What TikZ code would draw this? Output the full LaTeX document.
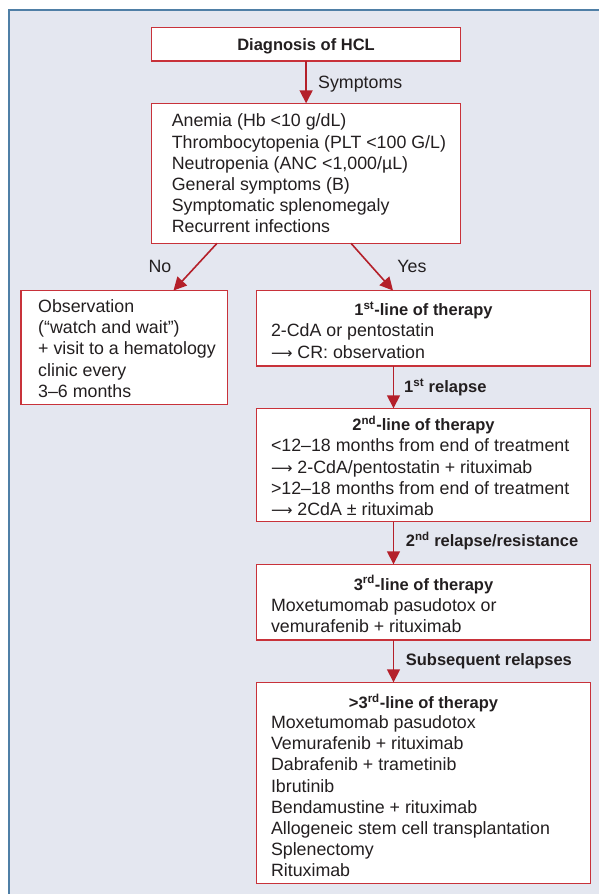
\documentclass[tikz,border=0pt]{standalone}
\usepackage{fontspec}
\setmainfont{Liberation Sans}
\newfontfamily\arrfont{DejaVu Sans}
\usetikzlibrary{arrows.meta}
\definecolor{bgcol}{HTML}{E4E7F0}
\definecolor{framecol}{HTML}{4F7FA6}
\definecolor{boxred}{HTML}{C8323A}
\definecolor{arrred}{HTML}{B4202A}
\definecolor{ink}{HTML}{231F20}
\newcommand{\bodyfnt}{\fontsize{17.8}{21.2}\selectfont}
\newcommand{\boldfnt}{\fontsize{16.5}{21.2}\selectfont\bfseries}
\newcommand{\fs}{\rule{0pt}{16pt}}
\newcommand{\lar}{{\arrfont\fontsize{15}{21.2}\selectfont ⟶}}
\begin{document}
\begin{tikzpicture}[x=1pt,y=-1pt,
  box/.style={draw=boxred, line width=1.4pt, fill=white, inner sep=0, outer sep=0, anchor=north west},
  txt/.style={anchor=north west, inner sep=0, align=left, font=\bodyfnt, text=ink},
  lbl/.style={anchor=base west, inner sep=0, font=\bodyfnt, text=ink},
  blbl/.style={anchor=base west, inner sep=0, font=\boldfnt, text=ink},
  ttl/.style={anchor=base, inner sep=0, font=\boldfnt, text=ink},
  arr/.style={draw=arrred, line width=1.6pt, -{Triangle[width=13pt,length=13pt]}, arrred}]
\useasboundingbox (0,0) rectangle (598,894);
% background frame
\fill[bgcol] (8,9) rectangle (600,896);
\draw[framecol, line width=2.5pt] (9.2,896) -- (9.2,10.2) -- (600,10.2);

% boxes
\node[box, minimum width=309.2pt, minimum height=33.5pt] (diag) at (151.5,27.5) {};
\node[box, minimum width=309.2pt, minimum height=140pt] (symp) at (151.5,103.3) {};
\node[box, minimum width=206.7pt, minimum height=113.8pt] (obs) at (21,290.5) {};
\node[box, minimum width=334.4pt, minimum height=75.5pt] (l1) at (256.3,290.5) {};
\node[box, minimum width=334.4pt, minimum height=113.4pt] (l2) at (256.3,408.3) {};
\node[box, minimum width=334.4pt, minimum height=75.7pt] (l3) at (256.3,564.3) {};
\node[box, minimum width=334.4pt, minimum height=201pt] (l4) at (256.3,682.3) {};

% texts
\node[ttl] (tdiag) at (306,50.5) {Diagnosis of HCL};
\node[txt] (tsymp) at (171.6,126.7-16) {\fs Anemia (Hb <10 g/dL)\\Thrombocytopenia (PLT <100 G/L)\\Neutropenia (ANC <1,000/µL)\\General symptoms (B)\\Symptomatic splenomegaly\\Recurrent infections};
\node[txt] (tobs) at (38,312.3-16) {\fs Observation\\(“watch and wait”)\\+ visit to a hematology\\clinic every\\3–6 months};
\node[ttl] (tl1) at (423.5,315.7) {1\textsuperscript{st}-line of therapy};
\node[txt] (bl1) at (270.8,336.7-16) {\fs 2-CdA or pentostatin\\\lar\ CR: observation};
\node[ttl] (tl2) at (423.5,430.7) {2\textsuperscript{nd}-line of therapy};
\node[txt] (bl2) at (270.8,451.7-16) {\fs <12–18 months from end of treatment\\\lar\ 2-CdA/pentostatin + rituximab\\>12–18 months from end of treatment\\\lar\ 2CdA ± rituximab};
\node[ttl] (tl3) at (423.5,590) {3\textsuperscript{rd}-line of therapy};
\node[txt] (bl3) at (270.8,611-16) {\fs Moxetumomab pasudotox or\\vemurafenib + rituximab};
\node[ttl] (tl4) at (423.5,708.3) {>3\textsuperscript{rd}-line of therapy};
\node[txt] (bl4) at (270.8,728.3-16) {\fs Moxetumomab pasudotox\\Vemurafenib + rituximab\\Dabrafenib + trametinib\\Ibrutinib\\Bendamustine + rituximab\\Allogeneic stem cell transplantation\\Splenectomy\\Rituximab};

% connector anchors
\coordinate (ax) at (393.5,0);
\coordinate (noA) at (217,0);
\coordinate (noB) at (173.5,0);
\coordinate (yesA) at (351,0);
\coordinate (yesB) at (393,0);

% connectors
\draw[arr] (diag.south) -- (symp.north);
\draw[arr] (symp.south -| noA) -- (obs.north -| noB);
\draw[arr] (symp.south -| yesA) -- (l1.north -| yesB);
\draw[arr] (l1.south -| ax) -- (l2.north -| ax);
\draw[arr] (l2.south -| ax) -- (l3.north -| ax);
\draw[arr] (l3.south -| ax) -- (l4.north -| ax);

% connector labels
\node[lbl] (lsym) at (318,88) {Symptoms};
\node[lbl, anchor=base] (lno) at (160,272) {No};
\node[lbl, anchor=base] (lyes) at (412,272) {Yes};
\node[blbl] (lr1) at (404,392.3) {1\textsuperscript{st} relapse};
\node[blbl] (lr2) at (405.7,546.7) {2\textsuperscript{nd} relapse/resistance};
\node[blbl] (lr3) at (405.7,665) {Subsequent relapses};
\end{tikzpicture}
\end{document}
